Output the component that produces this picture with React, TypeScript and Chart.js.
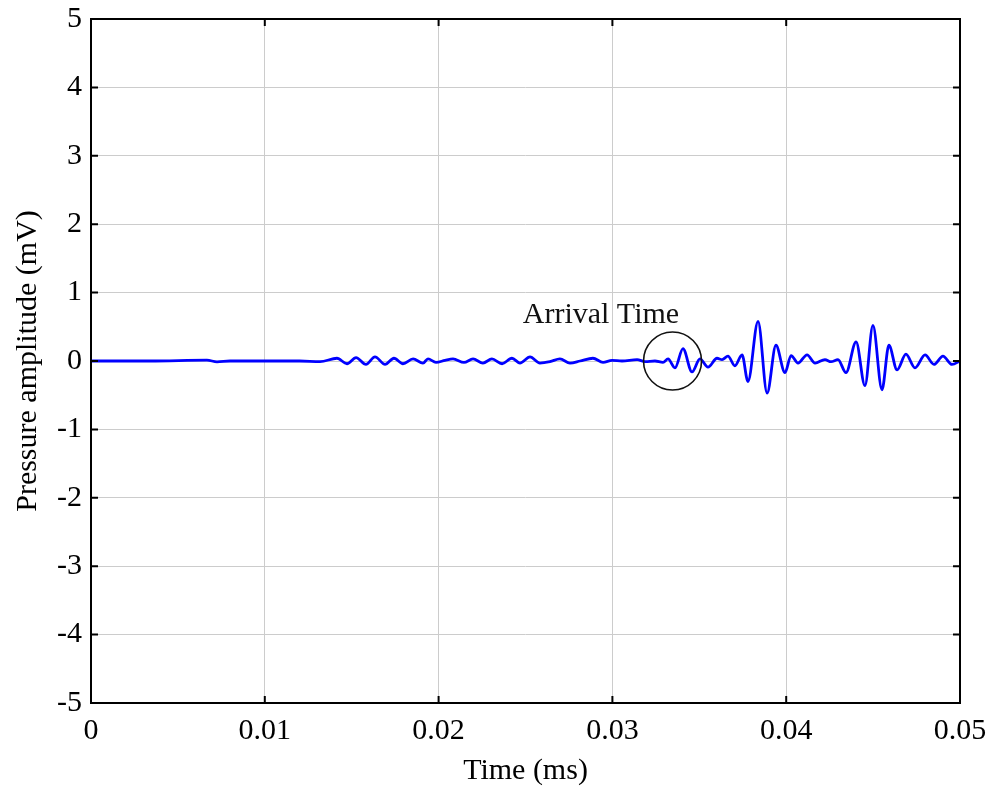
import React, { useEffect, useRef } from 'react';
import { Chart, registerables } from 'chart.js';

Chart.register(...registerables);

// Time axis (ms) and pressure amplitude (mV)
const timeMs = [
  0, 0.0034, 0.00667, 0.00725, 0.008, 0.012, 0.01318, 0.01415, 0.01473, 0.01525,
  0.01582, 0.01634, 0.01692, 0.01743, 0.01795, 0.01853, 0.0191, 0.01939, 0.01985, 0.02037,
  0.02083, 0.02146, 0.02198, 0.02255, 0.02307, 0.02365, 0.02422, 0.02468, 0.02526, 0.02583,
  0.02641, 0.02698, 0.02756, 0.02814, 0.02888, 0.02946, 0.02998, 0.03055, 0.03142, 0.03188,
  0.03245, 0.03291, 0.0332, 0.0336, 0.03406, 0.03458, 0.03504, 0.0355, 0.03602, 0.03631,
  0.03665, 0.03705, 0.03746, 0.0378, 0.03838, 0.0389, 0.03941, 0.03993, 0.04028, 0.04068,
  0.0412, 0.04166, 0.04223, 0.04258, 0.04298, 0.04344, 0.04402, 0.04453, 0.04499, 0.04551,
  0.04591, 0.04638, 0.04689, 0.04741, 0.04799, 0.0485, 0.04902, 0.04954, 0.05,
];
const pressureMv = [
  0, 0, 0.012, -0.012, 0, 0, -0.01, 0.04, -0.04, 0.05,
  -0.05, 0.06, -0.05, 0.04, -0.04, 0.03, -0.03, 0.03, -0.02, 0.01,
  0.03, -0.02, 0.03, -0.03, 0.03, -0.04, 0.04, -0.03, 0.06, -0.03,
  -0.01, 0.03, -0.03, 0, 0.04, -0.02, 0.01, 0, 0.02, -0.01,
  0, -0.02, 0.03, -0.1, 0.18, -0.16, 0.03, -0.09, 0.04, 0.02,
  0.07, -0.07, 0.09, -0.3, 0.58, -0.47, 0.23, -0.17, 0.08, -0.03,
  0.09, -0.03, 0.02, -0.01, 0.02, -0.17, 0.28, -0.36, 0.52, -0.42,
  0.23, -0.13, 0.1, -0.1, 0.09, -0.05, 0.07, -0.05, 0,
];

const xTickValues = [0, 0.01, 0.02, 0.03, 0.04, 0.05];
const xTickLabels = ['0', '0.01', '0.02', '0.03', '0.04', '0.05'];
const yTickValues = [-5, -4, -3, -2, -1, 0, 1, 2, 3, 4, 5];
const yTickLabels = ['-5', '-4', '-3', '-2', '-1', '0', '1', '2', '3', '4', '5'];

const xTitle = 'Time (ms)';
const yTitle = 'Pressure amplitude (mV)';
const annotationText = 'Arrival Time';
const arrivalTime = 0.03346;
const annotationTextTime = 0.02934;
const annotationTextValue = 0.556;

const FONT = '"Liberation Serif", "Times New Roman", serif';
const FONT_SIZE = 30;
const TICK_LEN = 7;

const framePlugin = {
  id: 'frame',
  afterDatasetsDraw(chart: any) {
    const { ctx, chartArea: a, scales } = chart;
    const xs = scales.x;
    const ys = scales.y;
    ctx.save();
    // arrival circle
    const cx = xs.getPixelForValue(arrivalTime);
    const cy = ys.getPixelForValue(0);
    ctx.beginPath();
    ctx.arc(cx, cy, 29, 0, Math.PI * 2);
    ctx.strokeStyle = '#111';
    ctx.lineWidth = 1.6;
    ctx.stroke();
    // annotation text
    ctx.fillStyle = '#111';
    ctx.font = `${FONT_SIZE}px ${FONT}`;
    ctx.textAlign = 'center';
    ctx.textBaseline = 'alphabetic';
    ctx.fillText(annotationText, xs.getPixelForValue(annotationTextTime), ys.getPixelForValue(annotationTextValue));
    // frame box
    ctx.strokeStyle = '#000';
    ctx.lineWidth = 2;
    ctx.strokeRect(a.left, a.top, a.right - a.left, a.bottom - a.top);
    // inward ticks
    ctx.beginPath();
    xTickValues.forEach((v) => {
      const px = xs.getPixelForValue(v);
      ctx.moveTo(px, a.bottom);
      ctx.lineTo(px, a.bottom - TICK_LEN);
      ctx.moveTo(px, a.top);
      ctx.lineTo(px, a.top + TICK_LEN);
    });
    yTickValues.forEach((v) => {
      const py = ys.getPixelForValue(v);
      ctx.moveTo(a.left, py);
      ctx.lineTo(a.left + TICK_LEN, py);
      ctx.moveTo(a.right, py);
      ctx.lineTo(a.right - TICK_LEN, py);
    });
    ctx.stroke();
    ctx.restore();
  },
};

export default function App() {
  const canvasRef = useRef<HTMLCanvasElement | null>(null);

  useEffect(() => {
    if (!canvasRef.current) return;
    const points = timeMs.map((t, i) => ({ x: t, y: pressureMv[i] }));
    const chart = new Chart(canvasRef.current, {
      type: 'line',
      data: {
        datasets: [
          {
            data: points,
            borderColor: '#0000ff',
            borderWidth: 2.8,
            pointRadius: 0,
            fill: false,
            cubicInterpolationMode: 'monotone',
          },
        ],
      },
      options: {
        responsive: false,
        animation: false,
        layout: { padding: { left: 0, right: 33, top: 19, bottom: 0 } },
        plugins: { legend: { display: false }, tooltip: { enabled: false } },
        scales: {
          x: {
            type: 'linear',
            min: 0,
            max: 0.05,
            afterBuildTicks: (scale: any) => {
              scale.ticks = xTickValues.map((v) => ({ value: v }));
            },
            afterFit: (scale: any) => {
              scale.height = 86;
              scale.paddingLeft = 0;
              scale.paddingRight = 0;
              scale.paddingTop = 0;
              scale.paddingBottom = 0;
            },
            grid: { color: '#cccccc', lineWidth: 1, drawTicks: false },
            border: { display: false },
            ticks: {
              color: '#000',
              padding: 10,
              maxRotation: 0,
              autoSkip: false,
              font: { family: FONT, size: FONT_SIZE },
              callback: (_v: any, i: number) => xTickLabels[i],
            },
            title: {
              display: true,
              text: xTitle,
              color: '#000',
              font: { family: FONT, size: FONT_SIZE },
              padding: { top: 0, bottom: 0 },
            },
          },
          y: {
            type: 'linear',
            min: -5,
            max: 5,
            afterBuildTicks: (scale: any) => {
              scale.ticks = yTickValues.map((v) => ({ value: v }));
            },
            afterFit: (scale: any) => {
              scale.width = 91;
              scale.paddingLeft = 0;
              scale.paddingRight = 0;
              scale.paddingTop = 0;
              scale.paddingBottom = 0;
            },
            grid: { color: '#cccccc', lineWidth: 1, drawTicks: false },
            border: { display: false },
            ticks: {
              color: '#000',
              padding: 9,
              autoSkip: false,
              font: { family: FONT, size: FONT_SIZE },
              callback: (_v: any, i: number) => yTickLabels[i],
            },
            title: {
              display: true,
              text: yTitle,
              color: '#000',
              font: { family: FONT, size: FONT_SIZE },
              padding: { top: 10, bottom: 0 },
            },
          },
        },
      },
      plugins: [framePlugin],
    });
    return () => chart.destroy();
  }, []);

  return (
    <div style={{ position: 'fixed', left: 0, top: 0, width: 993, height: 789, background: '#fff' }}>
      <canvas ref={canvasRef} width={993} height={789} style={{ width: 993, height: 789, display: 'block' }} />
    </div>
  );
}
